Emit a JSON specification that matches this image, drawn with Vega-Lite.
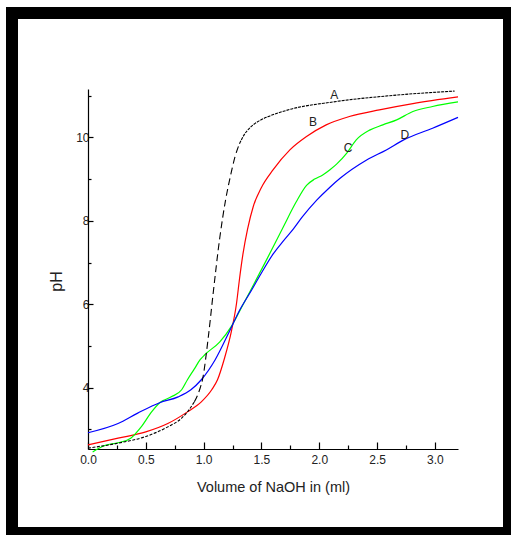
{
  "$schema": "https://vega.github.io/schema/vega-lite/v6.json",
  "width": 497,
  "height": 520,
  "autosize": {"type": "none"},
  "padding": {"left": 12, "top": 13, "right": 2, "bottom": 2},
  "background": "white",
  "config": {
    "view": {"stroke": "black", "strokeWidth": 12, "fill": "white"},
    "font": "Liberation Sans"
  },
  "datasets": {
    "curves": [
      {"series": "A", "x": 0.0, "y": 2.55}, {"series": "A", "x": 0.26, "y": 2.67}, {"series": "A", "x": 0.5, "y": 2.83},
      {"series": "A", "x": 0.69, "y": 3.06}, {"series": "A", "x": 0.81, "y": 3.27}, {"series": "A", "x": 0.86, "y": 3.42},
      {"series": "A", "x": 0.92, "y": 3.66}, {"series": "A", "x": 0.965, "y": 3.95}, {"series": "A", "x": 0.99, "y": 4.19},
      {"series": "A", "x": 1.04, "y": 5.2}, {"series": "A", "x": 1.08, "y": 6.2}, {"series": "A", "x": 1.14, "y": 7.6},
      {"series": "A", "x": 1.19, "y": 8.5}, {"series": "A", "x": 1.23, "y": 9.05}, {"series": "A", "x": 1.27, "y": 9.52},
      {"series": "A", "x": 1.31, "y": 9.85}, {"series": "A", "x": 1.35, "y": 10.06}, {"series": "A", "x": 1.4, "y": 10.23},
      {"series": "A", "x": 1.47, "y": 10.38}, {"series": "A", "x": 1.56, "y": 10.5}, {"series": "A", "x": 1.746, "y": 10.67},
      {"series": "A", "x": 2.12, "y": 10.85}, {"series": "A", "x": 2.61, "y": 11.0}, {"series": "A", "x": 3.17, "y": 11.11},
      {"series": "B", "x": 0.0, "y": 2.63}, {"series": "B", "x": 0.26, "y": 2.79}, {"series": "B", "x": 0.5, "y": 2.94},
      {"series": "B", "x": 0.69, "y": 3.14}, {"series": "B", "x": 0.86, "y": 3.42}, {"series": "B", "x": 0.98, "y": 3.66},
      {"series": "B", "x": 1.07, "y": 3.95}, {"series": "B", "x": 1.12, "y": 4.19}, {"series": "B", "x": 1.18, "y": 4.7},
      {"series": "B", "x": 1.24, "y": 5.35}, {"series": "B", "x": 1.285, "y": 6.03}, {"series": "B", "x": 1.31, "y": 6.6},
      {"series": "B", "x": 1.34, "y": 7.2}, {"series": "B", "x": 1.38, "y": 7.8}, {"series": "B", "x": 1.43, "y": 8.35},
      {"series": "B", "x": 1.5, "y": 8.8}, {"series": "B", "x": 1.6, "y": 9.22}, {"series": "B", "x": 1.746, "y": 9.7},
      {"series": "B", "x": 1.89, "y": 10.02}, {"series": "B", "x": 2.06, "y": 10.3}, {"series": "B", "x": 2.26, "y": 10.5},
      {"series": "B", "x": 2.52, "y": 10.66}, {"series": "B", "x": 2.81, "y": 10.81}, {"series": "B", "x": 3.2, "y": 10.97},
      {"series": "C", "x": 0.04, "y": 2.46}, {"series": "C", "x": 0.15, "y": 2.62}, {"series": "C", "x": 0.26, "y": 2.68},
      {"series": "C", "x": 0.37, "y": 2.79}, {"series": "C", "x": 0.46, "y": 3.06}, {"series": "C", "x": 0.55, "y": 3.42},
      {"series": "C", "x": 0.62, "y": 3.64}, {"series": "C", "x": 0.72, "y": 3.78}, {"series": "C", "x": 0.81, "y": 3.95},
      {"series": "C", "x": 0.86, "y": 4.19}, {"series": "C", "x": 0.92, "y": 4.45}, {"series": "C", "x": 0.97, "y": 4.67},
      {"series": "C", "x": 1.01, "y": 4.79}, {"series": "C", "x": 1.14, "y": 5.1}, {"series": "C", "x": 1.24, "y": 5.47},
      {"series": "C", "x": 1.32, "y": 5.88}, {"series": "C", "x": 1.4, "y": 6.3}, {"series": "C", "x": 1.545, "y": 7.07},
      {"series": "C", "x": 1.69, "y": 7.86}, {"series": "C", "x": 1.8, "y": 8.45}, {"series": "C", "x": 1.89, "y": 8.85},
      {"series": "C", "x": 1.96, "y": 9.0}, {"series": "C", "x": 2.03, "y": 9.1}, {"series": "C", "x": 2.09, "y": 9.22},
      {"series": "C", "x": 2.15, "y": 9.36}, {"series": "C", "x": 2.24, "y": 9.63}, {"series": "C", "x": 2.32, "y": 9.94},
      {"series": "C", "x": 2.44, "y": 10.18}, {"series": "C", "x": 2.55, "y": 10.3}, {"series": "C", "x": 2.67, "y": 10.42},
      {"series": "C", "x": 2.81, "y": 10.62}, {"series": "C", "x": 2.98, "y": 10.74}, {"series": "C", "x": 3.2, "y": 10.85},
      {"series": "D", "x": 0.0, "y": 2.92}, {"series": "D", "x": 0.26, "y": 3.14}, {"series": "D", "x": 0.43, "y": 3.39},
      {"series": "D", "x": 0.62, "y": 3.64}, {"series": "D", "x": 0.78, "y": 3.78}, {"series": "D", "x": 0.89, "y": 3.95},
      {"series": "D", "x": 0.98, "y": 4.19}, {"series": "D", "x": 1.1, "y": 4.67}, {"series": "D", "x": 1.23, "y": 5.39},
      {"series": "D", "x": 1.31, "y": 5.85}, {"series": "D", "x": 1.4, "y": 6.27}, {"series": "D", "x": 1.5, "y": 6.75},
      {"series": "D", "x": 1.6, "y": 7.2}, {"series": "D", "x": 1.69, "y": 7.52}, {"series": "D", "x": 1.775, "y": 7.8},
      {"series": "D", "x": 1.85, "y": 8.08}, {"series": "D", "x": 1.98, "y": 8.5}, {"series": "D", "x": 2.09, "y": 8.8},
      {"series": "D", "x": 2.18, "y": 9.02}, {"series": "D", "x": 2.41, "y": 9.46}, {"series": "D", "x": 2.58, "y": 9.7},
      {"series": "D", "x": 2.73, "y": 9.94}, {"series": "D", "x": 2.98, "y": 10.22}, {"series": "D", "x": 3.2, "y": 10.48}
    ],
    "labels": [
      {"x": 2.13, "y": 11.02, "text": "A"},
      {"x": 1.945, "y": 10.38, "text": "B"},
      {"x": 2.25, "y": 9.75, "text": "C"},
      {"x": 2.74, "y": 10.05, "text": "D"}
    ]
  },
  "layer": [
    {
      "data": {"name": "curves"},
      "transform": [{"filter": "datum.series !== 'A'"}],
      "mark": {"type": "line", "interpolate": "monotone", "strokeWidth": 1.2},
      "encoding": {
        "x": {
          "field": "x", "type": "quantitative",
          "scale": {"domain": [0, 3.2], "range": [76, 446], "nice": false, "zero": false},
          "axis": {
            "orient": "bottom", "offset": -84, "grid": false,
            "values": [0, 0.25, 0.5, 0.75, 1, 1.25, 1.5, 1.75, 2, 2.25, 2.5, 2.75, 3],
            "labelExpr": "datum.value % 0.5 === 0 ? format(datum.value, '.1f') : ''",
            "tickSize": {"expr": "datum.value % 0.5 === 0 ? -7 : -4"},
            "tickColor": "black", "domainColor": "black", "domainWidth": 1.2, "tickWidth": 1.2,
            "labelPadding": 12, "labelFontSize": 12, "labelColor": "#222", "labelFlush": false,
            "title": "Volume of NaOH in (ml)", "titleFontSize": 14.5, "titleFontWeight": "normal",
            "titleColor": "#222", "titlePadding": 15
          }
        },
        "y": {
          "field": "y", "type": "quantitative",
          "scale": {"domain": [2.53, 11.16], "range": [436, 76], "nice": false, "zero": false},
          "axis": {
            "orient": "left", "offset": -76, "grid": false,
            "values": [3, 4, 5, 6, 7, 8, 9, 10, 11],
            "labelExpr": "datum.value % 2 === 0 ? format(datum.value, 'd') : ''",
            "tickSize": {"expr": "datum.value % 2 === 0 ? -5 : -3"},
            "tickColor": "black", "domainColor": "black", "domainWidth": 1.2, "tickWidth": 1.2,
            "labelPadding": 4, "labelFontSize": 12, "labelColor": "#222", "labelFlush": false,
            "title": "pH", "titleFontSize": 16, "titleFontWeight": "normal", "titleColor": "#222",
            "titlePadding": 11, "titleY": 268
          }
        },
        "color": {
          "field": "series", "type": "nominal",
          "scale": {"domain": ["B", "C", "D"], "range": ["#ff0000", "#00ff00", "#0000ff"]},
          "legend": null
        }
      }
    },
    {
      "data": {"name": "curves"},
      "transform": [{"filter": "datum.series === 'A' && datum.x <= 0.92"}],
      "mark": {"type": "line", "interpolate": "monotone", "strokeWidth": 1.1, "color": "black", "strokeDash": [3, 1.5]},
      "encoding": {"x": {"field": "x", "type": "quantitative"}, "y": {"field": "y", "type": "quantitative"}}
    },
    {
      "data": {"name": "curves"},
      "transform": [{"filter": "datum.series === 'A' && datum.x >= 0.92 && datum.x <= 1.31"}],
      "mark": {"type": "line", "interpolate": "monotone", "strokeWidth": 1.1, "color": "black", "strokeDash": [7, 4]},
      "encoding": {"x": {"field": "x", "type": "quantitative"}, "y": {"field": "y", "type": "quantitative"}}
    },
    {
      "data": {"name": "curves"},
      "transform": [{"filter": "datum.series === 'A' && datum.x >= 1.31"}],
      "mark": {"type": "line", "interpolate": "monotone", "strokeWidth": 1.1, "color": "black", "strokeDash": [3, 1]},
      "encoding": {"x": {"field": "x", "type": "quantitative"}, "y": {"field": "y", "type": "quantitative"}}
    },
    {
      "data": {"name": "labels"},
      "mark": {"type": "text", "fontSize": 12, "color": "#222", "align": "center", "baseline": "middle"},
      "encoding": {
        "x": {"field": "x", "type": "quantitative"},
        "y": {"field": "y", "type": "quantitative"},
        "text": {"field": "text"}
      }
    }
  ]
}
